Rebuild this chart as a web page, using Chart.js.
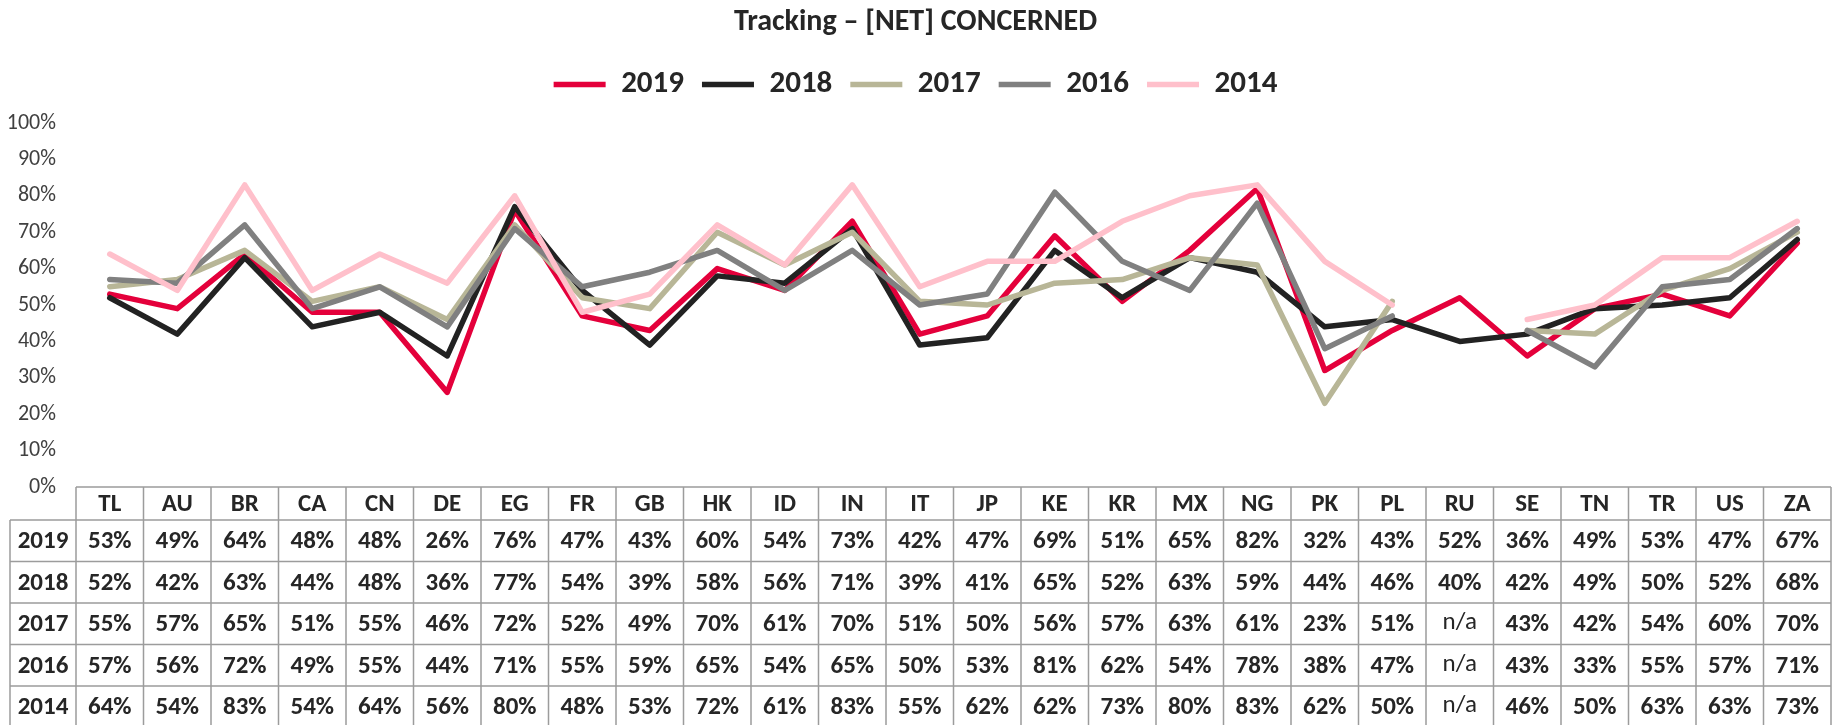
<!DOCTYPE html>
<html>
<head>
<meta charset="utf-8">
<script src="https://cdn.jsdelivr.net/npm/chart.js@4.4.0/dist/chart.umd.min.js"></script>
<style>
  html, body { margin: 0; padding: 0; background: #fff; }
  #wrap { width: 1833px; height: 725px; position: relative; }
</style>
</head>
<body>
<div id="wrap"><canvas id="grafica"></canvas></div>
<script>
const paises = ['TL','AU','BR','CA','CN','DE','EG','FR','GB','HK','ID','IN','IT','JP','KE','KR','MX','NG','PK','PL','RU','SE','TN','TR','US','ZA'];
const anios = ['2019', '2018', '2017', '2016', '2014'];
const datos2019 = [53,49,64,48,48,26,76,47,43,60,54,73,42,47,69,51,65,82,32,43,52,36,49,53,47,67];
const datos2018 = [52,42,63,44,48,36,77,54,39,58,56,71,39,41,65,52,63,59,44,46,40,42,49,50,52,68];
const datos2017 = [55,57,65,51,55,46,72,52,49,70,61,70,51,50,56,57,63,61,23,51,null,43,42,54,60,70];
const datos2016 = [57,56,72,49,55,44,71,55,59,65,54,65,50,53,81,62,54,78,38,47,null,43,33,55,57,71];
const datos2014 = [64,54,83,54,64,56,80,48,53,72,61,83,55,62,62,73,80,83,62,50,null,46,50,63,63,73];
const ticksY = [0, 10, 20, 30, 40, 50, 60, 70, 80, 90, 100];

const series = [datos2019, datos2018, datos2017, datos2016, datos2014];
const FUENTE = 'Carlito, Lato, sans-serif';

function serie(i, color) {
  return {
    label: anios[i],
    data: series[i],
    borderColor: color,
    backgroundColor: color,
    borderWidth: 5.5,
    borderCapStyle: 'round',
    borderJoinStyle: 'round',
    pointRadius: 0,
    tension: 0,
    spanGaps: false,
    order: 5 - i
  };
}

// deja mas aire entre la leyenda y el area del grafico
const espacioLeyenda = {
  id: 'espacioLeyenda',
  beforeLayout(chart) {
    const ley = chart.legend;
    if (!ley || ley._parcheado) return;
    const fitOrig = ley.fit;
    ley.fit = function() {
      fitOrig.call(this);
      this.height += 13;
    };
    ley._parcheado = true;
  }
};

// tabla de datos debajo del grafico, alineada con la escala x
const tablaDatos = {
  id: 'tablaDatos',
  afterDraw(chart) {
    const ctx = chart.ctx;
    const x = chart.scales.x;
    const area = chart.chartArea;
    const paso = x.getPixelForValue(1) - x.getPixelForValue(0);
    const izq = 10, arriba = area.bottom, altoCab = 33, altoFila = 41.5;
    const fondo = chart.height + 5;

    ctx.save();
    ctx.strokeStyle = '#9c9c9c';
    ctx.lineWidth = 1.5;
    ctx.beginPath();
    ctx.moveTo(area.left, arriba);
    ctx.lineTo(area.right, arriba);
    for (let r = 0; r <= series.length; r++) {
      const y = arriba + altoCab + r * altoFila;
      ctx.moveTo(izq, y);
      ctx.lineTo(area.right, y);
    }
    for (let i = 0; i <= paises.length; i++) {
      const xx = x.getPixelForValue(i) - paso / 2;
      ctx.moveTo(xx, arriba);
      ctx.lineTo(xx, fondo);
    }
    ctx.moveTo(izq, arriba + altoCab);
    ctx.lineTo(izq, fondo);
    ctx.stroke();

    ctx.fillStyle = '#262626';
    ctx.textAlign = 'center';
    ctx.textBaseline = 'middle';
    ctx.font = 'bold 25px ' + FUENTE;
    paises.forEach((p, i) => {
      ctx.fillText(p, x.getPixelForValue(i), arriba + altoCab / 2 + 1);
    });
    series.forEach((vals, r) => {
      const yc = arriba + altoCab + r * altoFila + altoFila / 2 + 1;
      ctx.font = 'bold 25px ' + FUENTE;
      ctx.fillText(anios[r], (izq + area.left) / 2, yc);
      vals.forEach((v, i) => {
        if (v === null) {
          ctx.font = '25px ' + FUENTE;
          ctx.fillText('n/a', x.getPixelForValue(i), yc - 2);
        } else {
          ctx.font = 'bold 25px ' + FUENTE;
          ctx.fillText(v + '%', x.getPixelForValue(i), yc);
        }
      });
    });
    ctx.restore();
  }
};

const ctx = document.getElementById('grafica').getContext('2d');
new Chart(ctx, {
  type: 'line',
  data: {
    labels: paises,
    datasets: [
      serie(0, '#e4003b'),
      serie(1, '#222222'),
      serie(2, '#b8b697'),
      serie(3, '#808080'),
      serie(4, '#ffc0cb')
    ]
  },
  options: {
    responsive: true,
    maintainAspectRatio: false,
    animation: false,
    layout: { padding: { left: 0, right: 2, top: 0, bottom: 238 } },
    plugins: {
      title: {
        display: true,
        text: 'Tracking \u2013 [NET] CONCERNED',
        color: '#262626',
        font: { family: FUENTE, size: 30, weight: 'bold' },
        padding: { top: 4, bottom: 11 }
      },
      legend: {
        position: 'top',
        labels: {
          color: '#262626',
          font: { family: FUENTE, size: 31, weight: 'bold' },
          usePointStyle: true,
          pointStyle: 'line',
          pointStyleWidth: 52,
          padding: 18,
          sort: (a, b) => a.datasetIndex - b.datasetIndex
        }
      },
      tooltip: { enabled: false }
    },
    scales: {
      x: {
        type: 'category',
        offset: true,
        display: false
      },
      y: {
        min: 0,
        max: 100,
        afterBuildTicks: (s) => { s.ticks = ticksY.map(v => ({ value: v })); },
        afterFit: (s) => { s.width = 76; },
        grid: { display: false },
        border: { display: false },
        ticks: {
          color: '#404040',
          padding: 12,
          font: { family: FUENTE, size: 22 },
          callback: (v) => v + '%'
        }
      }
    }
  },
  plugins: [espacioLeyenda, tablaDatos]
});
</script>
</body>
</html>
